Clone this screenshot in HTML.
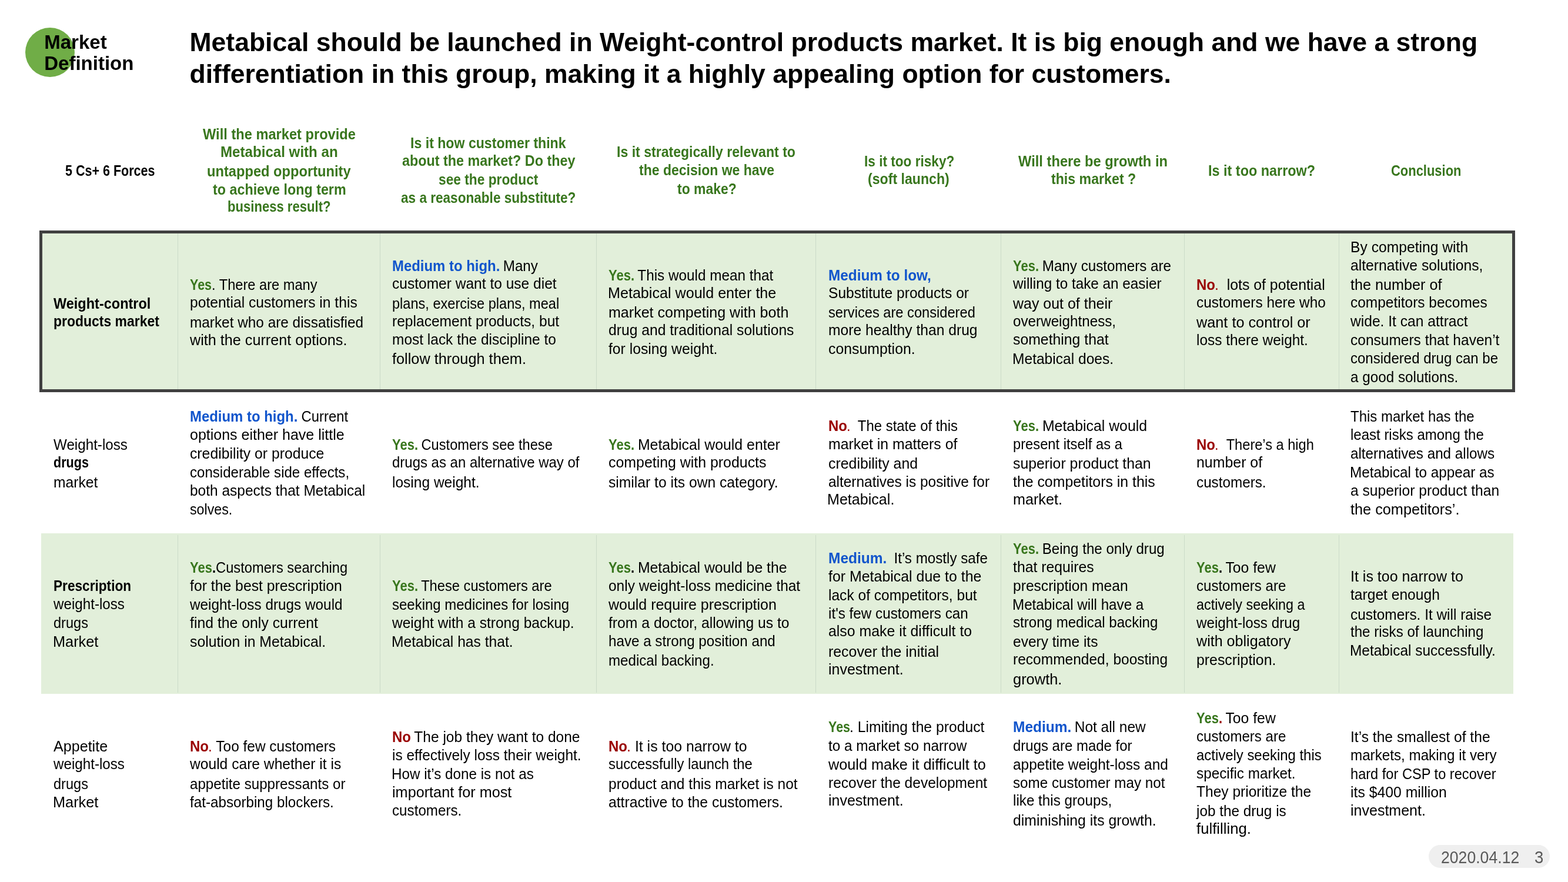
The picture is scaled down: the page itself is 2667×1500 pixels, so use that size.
<!DOCTYPE html>
<html lang="en">
<head>
<meta charset="utf-8">
<title>Market Definition</title>
<style>
html,body{margin:0;padding:0;background:#fff}
body{width:2667px;height:1500px;position:relative;overflow:hidden;font-family:"Liberation Sans",sans-serif;color:#000}
.t{position:absolute;white-space:pre;font-size:25px;line-height:30px;height:30px;transform-origin:0 0;font-weight:400}
.bd{font-weight:700}
.circle{position:absolute;left:43.25px;top:47px;width:84px;height:84px;border-radius:50%;background:#70ad47}
.lab{position:absolute;white-space:pre;font-weight:700;font-size:33px;line-height:36px;height:36px;transform-origin:0 0}
.ttl{position:absolute;white-space:pre;font-weight:700;font-size:44.53px;line-height:54px;height:54px;transform-origin:0 0}
.band{position:absolute;background:#e2efda}
.box{position:absolute;left:67px;top:392px;width:2510px;height:275px;box-sizing:border-box;border:5px solid #404040;background:#e2efda}
.sep{position:absolute;width:1px;background:#cbdbc8}
.pill{position:absolute;left:2430px;top:1436.5px;width:205.5px;height:39px;border-radius:19.5px;background:#efefef}
.pg{position:absolute;white-space:pre;font-size:29px;line-height:34px;height:34px;color:#595959;transform-origin:0 0}
</style>
</head>
<body>
<div class="circle"></div>
<div class="box"></div>
<div class="band" style="left:69.5px;top:907px;width:2504.5px;height:273px"></div>
<div class="sep" style="left:302.00px;top:397px;height:265px"></div>
<div class="sep" style="left:302.00px;top:910px;height:268px"></div>
<div class="sep" style="left:646.00px;top:397px;height:265px"></div>
<div class="sep" style="left:646.00px;top:910px;height:268px"></div>
<div class="sep" style="left:1014.00px;top:397px;height:265px"></div>
<div class="sep" style="left:1014.00px;top:910px;height:268px"></div>
<div class="sep" style="left:1387.00px;top:397px;height:265px"></div>
<div class="sep" style="left:1387.00px;top:910px;height:268px"></div>
<div class="sep" style="left:1701.75px;top:397px;height:265px"></div>
<div class="sep" style="left:1701.75px;top:910px;height:268px"></div>
<div class="sep" style="left:2014.00px;top:397px;height:265px"></div>
<div class="sep" style="left:2014.00px;top:910px;height:268px"></div>
<div class="sep" style="left:2277.25px;top:397px;height:265px"></div>
<div class="sep" style="left:2277.25px;top:910px;height:268px"></div>
<span class="lab" style="left:75.25px;top:54px">Market</span>
<span class="lab" style="left:75.25px;top:90px">Definition</span>
<span class="ttl" style="left:322.5px;top:45px">Metabical should be launched in Weight-control products market. It is big enough and we have a strong</span>
<span class="ttl" style="left:322.5px;top:99px">differentiation in this group, making it a highly appealing option for customers.</span>
<div class="pill"></div>
<span class="pg" style="left:2450.7px;top:1441px;transform:scaleX(0.918)">2020.04.12</span>
<span class="pg" style="left:2609.5px;top:1441px;transform:scaleX(0.95)">3</span>
<span class="t bd" style="left:110.75px;top:275px;transform:scaleX(0.8608)">5 Cs+ 6 Forces</span>
<span class="t bd" style="left:345.00px;top:213px;transform:scaleX(0.9457);color:#38761d">Will the market provide</span>
<span class="t bd" style="left:375.29px;top:243px;transform:scaleX(0.9648);color:#38761d">Metabical with an</span>
<span class="t bd" style="left:352.30px;top:276px;transform:scaleX(0.9470);color:#38761d">untapped opportunity</span>
<span class="t bd" style="left:362.00px;top:307px;transform:scaleX(0.9323);color:#38761d">to achieve long term</span>
<span class="t bd" style="left:387.12px;top:336px;transform:scaleX(0.8834);color:#38761d">business result?</span>
<span class="t bd" style="left:698.08px;top:228px;transform:scaleX(0.9247);color:#38761d">Is it how customer think</span>
<span class="t bd" style="left:684.00px;top:258px;transform:scaleX(0.9337);color:#38761d">about the market? Do they</span>
<span class="t bd" style="left:746.00px;top:290px;transform:scaleX(0.9100);color:#38761d">see the product</span>
<span class="t bd" style="left:681.50px;top:321px;transform:scaleX(0.9032);color:#38761d">as a reasonable substitute?</span>
<span class="t bd" style="left:1049.33px;top:243px;transform:scaleX(0.9229);color:#38761d">Is it strategically relevant to</span>
<span class="t bd" style="left:1086.50px;top:274px;transform:scaleX(0.9203);color:#38761d">the decision we have</span>
<span class="t bd" style="left:1151.50px;top:306px;transform:scaleX(0.9172);color:#38761d">to make?</span>
<span class="t bd" style="left:1469.60px;top:259px;transform:scaleX(0.9045);color:#38761d">Is it too risky?</span>
<span class="t bd" style="left:1475.83px;top:289px;transform:scaleX(0.9249);color:#38761d">(soft launch)</span>
<span class="t bd" style="left:1731.75px;top:259px;transform:scaleX(0.9482);color:#38761d">Will there be growth in</span>
<span class="t bd" style="left:1787.50px;top:289px;transform:scaleX(0.9266);color:#38761d">this market ?</span>
<span class="t bd" style="left:2055.31px;top:275px;transform:scaleX(0.9366);color:#38761d">Is it too narrow?</span>
<span class="t bd" style="left:2366.12px;top:275px;transform:scaleX(0.8779);color:#38761d">Conclusion</span>
<span class="t bd" style="left:90.55px;top:501px;transform:scaleX(0.9399)">Weight-control</span>
<span class="t bd" style="left:90.80px;top:531px;transform:scaleX(0.9180)">products market</span>
<span class="t bd" style="left:323.30px;top:469px;transform:scaleX(0.8590);color:#38761d">Yes</span>
<span class="t" style="left:359.53px;top:469px;transform:scaleX(0.9456)">. There are many</span>
<span class="t" style="left:323.30px;top:499px;transform:scaleX(0.9850)">potential customers in this</span>
<span class="t" style="left:323.30px;top:533px;transform:scaleX(0.9742)">market who are dissatisfied</span>
<span class="t" style="left:323.30px;top:563px;transform:scaleX(1.0075)">with the current options.</span>
<span class="t bd" style="left:666.80px;top:437px;transform:scaleX(0.9568);color:#1155cc">Medium to high.</span>
<span class="t" style="left:849.36px;top:437px;transform:scaleX(0.9680)"> Many</span>
<span class="t" style="left:666.80px;top:467px;transform:scaleX(0.9817)">customer want to use diet</span>
<span class="t" style="left:666.80px;top:501px;transform:scaleX(0.9424)">plans, exercise plans, meal</span>
<span class="t" style="left:666.80px;top:531px;transform:scaleX(0.9830)">replacement products, but</span>
<span class="t" style="left:666.80px;top:562px;transform:scaleX(0.9789)">most lack the discipline to</span>
<span class="t" style="left:666.80px;top:595px;transform:scaleX(1.0124)">follow through them.</span>
<span class="t bd" style="left:1035.05px;top:453px;transform:scaleX(0.8808);color:#38761d">Yes.</span>
<span class="t" style="left:1078.35px;top:453px;transform:scaleX(0.9715)"> This would mean that</span>
<span class="t" style="left:1033.85px;top:483px;transform:scaleX(1.0050)">Metabical would enter the</span>
<span class="t" style="left:1035.05px;top:516px;transform:scaleX(1.0021)">market competing with both</span>
<span class="t" style="left:1035.05px;top:546px;transform:scaleX(0.9868)">drug and traditional solutions</span>
<span class="t" style="left:1035.05px;top:578px;transform:scaleX(0.9881)">for losing weight.</span>
<span class="t bd" style="left:1408.55px;top:453px;transform:scaleX(0.9736);color:#1155cc">Medium to low,</span>
<span class="t" style="left:1408.55px;top:483px;transform:scaleX(0.9829)">Substitute products or</span>
<span class="t" style="left:1408.55px;top:516px;transform:scaleX(0.9462)">services are considered</span>
<span class="t" style="left:1408.55px;top:546px;transform:scaleX(0.9863)">more healthy than drug</span>
<span class="t" style="left:1408.55px;top:578px;transform:scaleX(0.9929)">consumption.</span>
<span class="t bd" style="left:1722.80px;top:437px;transform:scaleX(0.8808);color:#38761d">Yes.</span>
<span class="t" style="left:1766.10px;top:437px;transform:scaleX(0.9684)"> Many customers are</span>
<span class="t" style="left:1722.80px;top:467px;transform:scaleX(0.9717)">willing to take an easier</span>
<span class="t" style="left:1722.80px;top:501px;transform:scaleX(0.9985)">way out of their</span>
<span class="t" style="left:1722.80px;top:531px;transform:scaleX(0.9692)">overweightness,</span>
<span class="t" style="left:1722.80px;top:562px;transform:scaleX(0.9918)">something that</span>
<span class="t" style="left:1721.60px;top:595px;transform:scaleX(0.9827)">Metabical does.</span>
<span class="t bd" style="left:2034.80px;top:469px;transform:scaleX(0.9593);color:#990000">No</span>
<span class="t" style="left:2065.97px;top:469px;transform:scaleX(0.9924);color:#990000">.</span>
<span class="t" style="left:2072.87px;top:469px;transform:scaleX(0.9924)">  lots of potential</span>
<span class="t" style="left:2034.80px;top:499px;transform:scaleX(0.9766)">customers here who</span>
<span class="t" style="left:2034.80px;top:533px;transform:scaleX(1.0105)">want to control or</span>
<span class="t" style="left:2034.80px;top:563px;transform:scaleX(0.9759)">loss there weight.</span>
<span class="t" style="left:2297.30px;top:405px;transform:scaleX(0.9863)">By competing with</span>
<span class="t" style="left:2297.30px;top:436px;transform:scaleX(0.9889)">alternative solutions,</span>
<span class="t" style="left:2297.30px;top:469px;transform:scaleX(1.0074)">the number of</span>
<span class="t" style="left:2297.30px;top:499px;transform:scaleX(0.9793)">competitors becomes</span>
<span class="t" style="left:2297.30px;top:531px;transform:scaleX(0.9841)">wide. It can attract</span>
<span class="t" style="left:2297.30px;top:563px;transform:scaleX(0.9804)">consumers that haven’t</span>
<span class="t" style="left:2297.30px;top:594px;transform:scaleX(0.9609)">considered drug can be</span>
<span class="t" style="left:2297.30px;top:626px;transform:scaleX(0.9699)">a good solutions.</span>
<span class="t" style="left:90.80px;top:741px;transform:scaleX(0.9677)">Weight-loss</span>
<span class="t bd" style="left:90.80px;top:771px;transform:scaleX(0.8637)">drugs</span>
<span class="t" style="left:90.80px;top:805px;transform:scaleX(0.9868)">market</span>
<span class="t bd" style="left:323.30px;top:693px;transform:scaleX(0.9568);color:#1155cc">Medium to high.</span>
<span class="t" style="left:505.86px;top:693px;transform:scaleX(0.9532)"> Current</span>
<span class="t" style="left:323.30px;top:724px;transform:scaleX(0.9998)">options either have little</span>
<span class="t" style="left:323.30px;top:756px;transform:scaleX(0.9899)">credibility or produce</span>
<span class="t" style="left:323.30px;top:788px;transform:scaleX(0.9624)">considerable side effects,</span>
<span class="t" style="left:323.30px;top:819px;transform:scaleX(0.9799)">both aspects that Metabical</span>
<span class="t" style="left:323.30px;top:851px;transform:scaleX(0.9287)">solves.</span>
<span class="t bd" style="left:666.80px;top:741px;transform:scaleX(0.8808);color:#38761d">Yes.</span>
<span class="t" style="left:710.10px;top:741px;transform:scaleX(0.9449)"> Customers see these</span>
<span class="t" style="left:666.80px;top:771px;transform:scaleX(0.9587)">drugs as an alternative way of</span>
<span class="t" style="left:666.80px;top:805px;transform:scaleX(0.9811)">losing weight.</span>
<span class="t bd" style="left:1035.05px;top:741px;transform:scaleX(0.8808);color:#38761d">Yes.</span>
<span class="t" style="left:1078.35px;top:741px;transform:scaleX(0.9944)"> Metabical would enter</span>
<span class="t" style="left:1035.05px;top:771px;transform:scaleX(0.9958)">competing with products</span>
<span class="t" style="left:1035.05px;top:805px;transform:scaleX(0.9861)">similar to its own category.</span>
<span class="t bd" style="left:1408.55px;top:709px;transform:scaleX(0.9593);color:#990000">No</span>
<span class="t" style="left:1439.72px;top:709px;transform:scaleX(0.9562);color:#990000">.</span>
<span class="t" style="left:1446.37px;top:709px;transform:scaleX(0.9562)">  The state of this</span>
<span class="t" style="left:1408.55px;top:740px;transform:scaleX(0.9932)">market in matters of</span>
<span class="t" style="left:1408.55px;top:773px;transform:scaleX(0.9950)">credibility and</span>
<span class="t" style="left:1408.55px;top:804px;transform:scaleX(0.9763)">alternatives is positive for</span>
<span class="t" style="left:1407.35px;top:834px;transform:scaleX(1.0036)">Metabical.</span>
<span class="t bd" style="left:1722.80px;top:709px;transform:scaleX(0.8808);color:#38761d">Yes.</span>
<span class="t" style="left:1766.10px;top:709px;transform:scaleX(0.9938)"> Metabical would</span>
<span class="t" style="left:1722.80px;top:740px;transform:scaleX(0.9486)">present itself as a</span>
<span class="t" style="left:1722.80px;top:773px;transform:scaleX(0.9930)">superior product than</span>
<span class="t" style="left:1722.80px;top:804px;transform:scaleX(0.9940)">the competitors in this</span>
<span class="t" style="left:1722.80px;top:834px;transform:scaleX(1.0067)">market.</span>
<span class="t bd" style="left:2034.80px;top:741px;transform:scaleX(0.9593);color:#990000">No</span>
<span class="t" style="left:2065.97px;top:741px;transform:scaleX(0.9444);color:#990000">.</span>
<span class="t" style="left:2072.54px;top:741px;transform:scaleX(0.9444)">  There’s a high</span>
<span class="t" style="left:2034.80px;top:771px;transform:scaleX(0.9963)">number of</span>
<span class="t" style="left:2034.80px;top:805px;transform:scaleX(0.9700)">customers.</span>
<span class="t" style="left:2297.30px;top:693px;transform:scaleX(0.9592)">This market has the</span>
<span class="t" style="left:2297.30px;top:724px;transform:scaleX(0.9602)">least risks among the</span>
<span class="t" style="left:2297.30px;top:756px;transform:scaleX(0.9694)">alternatives and allows</span>
<span class="t" style="left:2296.10px;top:788px;transform:scaleX(0.9712)">Metabical to appear as</span>
<span class="t" style="left:2297.30px;top:819px;transform:scaleX(0.9844)">a superior product than</span>
<span class="t" style="left:2297.30px;top:851px;transform:scaleX(1.0109)">the competitors’.</span>
<span class="t bd" style="left:90.80px;top:981px;transform:scaleX(0.9056)">Prescription</span>
<span class="t" style="left:90.80px;top:1012px;transform:scaleX(0.9671)">weight-loss</span>
<span class="t" style="left:90.80px;top:1044px;transform:scaleX(0.9422)">drugs</span>
<span class="t" style="left:89.60px;top:1076px;transform:scaleX(1.0123)">Market</span>
<span class="t bd" style="left:323.30px;top:950px;transform:scaleX(0.8808);color:#38761d">Yes</span>
<span class="t bd" style="left:361.27px;top:950px;transform:scaleX(0.8808)">.</span>
<span class="t" style="left:366.60px;top:950px;transform:scaleX(0.9494)">Customers searching</span>
<span class="t" style="left:323.30px;top:981px;transform:scaleX(0.9908)">for the best prescription</span>
<span class="t" style="left:323.30px;top:1013px;transform:scaleX(0.9729)">weight-loss drugs would</span>
<span class="t" style="left:323.30px;top:1044px;transform:scaleX(0.9924)">find the only current</span>
<span class="t" style="left:323.30px;top:1076px;transform:scaleX(0.9900)">solution in Metabical.</span>
<span class="t bd" style="left:666.80px;top:981px;transform:scaleX(0.8808);color:#38761d">Yes.</span>
<span class="t" style="left:710.10px;top:981px;transform:scaleX(0.9473)"> These customers are</span>
<span class="t" style="left:666.80px;top:1013px;transform:scaleX(0.9587)">seeking medicines for losing</span>
<span class="t" style="left:666.80px;top:1044px;transform:scaleX(0.9815)">weight with a strong backup.</span>
<span class="t" style="left:665.60px;top:1076px;transform:scaleX(0.9844)">Metabical has that.</span>
<span class="t bd" style="left:1035.05px;top:950px;transform:scaleX(0.8808);color:#38761d">Yes</span>
<span class="t bd" style="left:1073.02px;top:950px;transform:scaleX(0.8808)">.</span>
<span class="t" style="left:1078.35px;top:950px;transform:scaleX(0.9920)"> Metabical would be the</span>
<span class="t" style="left:1035.05px;top:981px;transform:scaleX(0.9780)">only weight-loss medicine that</span>
<span class="t" style="left:1035.05px;top:1013px;transform:scaleX(0.9986)">would require prescription</span>
<span class="t" style="left:1035.05px;top:1044px;transform:scaleX(0.9882)">from a doctor, allowing us to</span>
<span class="t" style="left:1035.05px;top:1075px;transform:scaleX(0.9678)">have a strong position and</span>
<span class="t" style="left:1035.05px;top:1108px;transform:scaleX(0.9644)">medical backing.</span>
<span class="t bd" style="left:1408.55px;top:934px;transform:scaleX(0.9804);color:#1155cc">Medium.</span>
<span class="t" style="left:1507.17px;top:934px;transform:scaleX(0.9675)">  It’s mostly safe</span>
<span class="t" style="left:1408.55px;top:965px;transform:scaleX(0.9965)">for Metabical due to the</span>
<span class="t" style="left:1408.55px;top:997px;transform:scaleX(0.9828)">lack of competitors, but</span>
<span class="t" style="left:1408.55px;top:1028px;transform:scaleX(0.9702)">it&#x27;s few customers can</span>
<span class="t" style="left:1408.55px;top:1058px;transform:scaleX(0.9944)">also make it difficult to</span>
<span class="t" style="left:1408.55px;top:1093px;transform:scaleX(0.9948)">recover the initial</span>
<span class="t" style="left:1408.55px;top:1123px;transform:scaleX(0.9985)">investment.</span>
<span class="t bd" style="left:1722.80px;top:918px;transform:scaleX(0.8808);color:#38761d">Yes.</span>
<span class="t" style="left:1766.10px;top:918px;transform:scaleX(0.9658)"> Being the only drug</span>
<span class="t" style="left:1722.80px;top:949px;transform:scaleX(0.9909)">that requires</span>
<span class="t" style="left:1722.80px;top:981px;transform:scaleX(0.9843)">prescription mean</span>
<span class="t" style="left:1721.60px;top:1013px;transform:scaleX(0.9681)">Metabical will have a</span>
<span class="t" style="left:1722.80px;top:1043px;transform:scaleX(0.9634)">strong medical backing</span>
<span class="t" style="left:1722.80px;top:1076px;transform:scaleX(0.9809)">every time its</span>
<span class="t" style="left:1722.80px;top:1106px;transform:scaleX(0.9809)">recommended, boosting</span>
<span class="t" style="left:1722.80px;top:1140px;transform:scaleX(1.0177)">growth.</span>
<span class="t bd" style="left:2034.80px;top:950px;transform:scaleX(0.8808);color:#38761d">Yes</span>
<span class="t bd" style="left:2072.77px;top:950px;transform:scaleX(0.8808)">.</span>
<span class="t" style="left:2078.10px;top:950px;transform:scaleX(0.9905)"> Too few</span>
<span class="t" style="left:2034.80px;top:981px;transform:scaleX(0.9617)">customers are</span>
<span class="t" style="left:2034.80px;top:1013px;transform:scaleX(0.9356)">actively seeking a</span>
<span class="t" style="left:2034.80px;top:1044px;transform:scaleX(0.9673)">weight-loss drug</span>
<span class="t" style="left:2034.80px;top:1075px;transform:scaleX(1.0040)">with obligatory</span>
<span class="t" style="left:2034.80px;top:1107px;transform:scaleX(0.9942)">prescription.</span>
<span class="t" style="left:2297.30px;top:965px;transform:scaleX(1.0006)">It is too narrow to</span>
<span class="t" style="left:2297.30px;top:996px;transform:scaleX(0.9841)">target enough</span>
<span class="t" style="left:2297.30px;top:1030px;transform:scaleX(0.9764)">customers. It will raise</span>
<span class="t" style="left:2297.30px;top:1059px;transform:scaleX(0.9637)">the risks of launching</span>
<span class="t" style="left:2296.10px;top:1091px;transform:scaleX(0.9764)">Metabical successfully.</span>
<span class="t" style="left:90.80px;top:1254px;transform:scaleX(1.0041)">Appetite</span>
<span class="t" style="left:90.80px;top:1284px;transform:scaleX(0.9671)">weight-loss</span>
<span class="t" style="left:90.80px;top:1318px;transform:scaleX(0.9422)">drugs</span>
<span class="t" style="left:89.60px;top:1349px;transform:scaleX(1.0123)">Market</span>
<span class="t bd" style="left:323.30px;top:1254px;transform:scaleX(0.9593);color:#990000">No</span>
<span class="t" style="left:354.47px;top:1254px;transform:scaleX(0.9773);color:#990000">.</span>
<span class="t" style="left:361.27px;top:1254px;transform:scaleX(0.9773)"> Too few customers</span>
<span class="t" style="left:323.30px;top:1284px;transform:scaleX(0.9845)">would care whether it is</span>
<span class="t" style="left:323.30px;top:1318px;transform:scaleX(0.9662)">appetite suppressants or</span>
<span class="t" style="left:323.30px;top:1349px;transform:scaleX(0.9681)">fat-absorbing blockers.</span>
<span class="t bd" style="left:666.80px;top:1238px;transform:scaleX(0.9593);color:#990000">No</span>
<span class="t" style="left:697.97px;top:1238px;transform:scaleX(0.9806)"> The job they want to done</span>
<span class="t" style="left:666.80px;top:1269px;transform:scaleX(0.9780)">is effectively loss their weight.</span>
<span class="t" style="left:665.60px;top:1301px;transform:scaleX(0.9688)">How it’s done is not as</span>
<span class="t" style="left:666.80px;top:1332px;transform:scaleX(1.0096)">important for most</span>
<span class="t" style="left:666.80px;top:1363px;transform:scaleX(0.9679)">customers.</span>
<span class="t bd" style="left:1035.05px;top:1254px;transform:scaleX(0.9593);color:#990000">No</span>
<span class="t" style="left:1066.22px;top:1254px;transform:scaleX(0.9941);color:#990000">.</span>
<span class="t" style="left:1073.13px;top:1254px;transform:scaleX(0.9941)"> It is too narrow to</span>
<span class="t" style="left:1035.05px;top:1284px;transform:scaleX(0.9523)">successfully launch the</span>
<span class="t" style="left:1035.05px;top:1318px;transform:scaleX(0.9808)">product and this market is not</span>
<span class="t" style="left:1035.05px;top:1349px;transform:scaleX(0.9892)">attractive to the customers.</span>
<span class="t bd" style="left:1408.55px;top:1221px;transform:scaleX(0.8590);color:#38761d">Yes</span>
<span class="t" style="left:1444.78px;top:1221px;transform:scaleX(0.9886)">. Limiting the product</span>
<span class="t" style="left:1408.55px;top:1253px;transform:scaleX(0.9732)">to a market so narrow</span>
<span class="t" style="left:1408.55px;top:1285px;transform:scaleX(1.0110)">would make it difficult to</span>
<span class="t" style="left:1408.55px;top:1316px;transform:scaleX(0.9818)">recover the development</span>
<span class="t" style="left:1408.55px;top:1346px;transform:scaleX(0.9985)">investment.</span>
<span class="t bd" style="left:1722.80px;top:1221px;transform:scaleX(0.9804);color:#1155cc">Medium.</span>
<span class="t" style="left:1821.42px;top:1221px;transform:scaleX(0.9773)"> Not all new</span>
<span class="t" style="left:1722.80px;top:1253px;transform:scaleX(0.9588)">drugs are made for</span>
<span class="t" style="left:1722.80px;top:1285px;transform:scaleX(0.9786)">appetite weight-loss and</span>
<span class="t" style="left:1722.80px;top:1316px;transform:scaleX(0.9687)">some customer may not</span>
<span class="t" style="left:1722.80px;top:1346px;transform:scaleX(0.9692)">like this groups,</span>
<span class="t" style="left:1722.80px;top:1380px;transform:scaleX(0.9906)">diminishing its growth.</span>
<span class="t bd" style="left:2034.80px;top:1206px;transform:scaleX(0.8808);color:#38761d">Yes</span>
<span class="t bd" style="left:2072.77px;top:1206px;transform:scaleX(0.8808);color:#990000">.</span>
<span class="t" style="left:2078.10px;top:1206px;transform:scaleX(0.9905)"> Too few</span>
<span class="t" style="left:2034.80px;top:1237px;transform:scaleX(0.9617)">customers are</span>
<span class="t" style="left:2034.80px;top:1269px;transform:scaleX(0.9566)">actively seeking this</span>
<span class="t" style="left:2034.80px;top:1300px;transform:scaleX(0.9708)">specific market.</span>
<span class="t" style="left:2034.80px;top:1331px;transform:scaleX(0.9818)">They prioritize the</span>
<span class="t" style="left:2034.80px;top:1364px;transform:scaleX(0.9723)">job the drug is</span>
<span class="t" style="left:2034.80px;top:1394px;transform:scaleX(1.0291)">fulfilling.</span>
<span class="t" style="left:2297.30px;top:1238px;transform:scaleX(0.9845)">It’s the smallest of the</span>
<span class="t" style="left:2297.30px;top:1269px;transform:scaleX(0.9677)">markets, making it very</span>
<span class="t" style="left:2297.30px;top:1301px;transform:scaleX(0.9444)">hard for CSP to recover</span>
<span class="t" style="left:2297.30px;top:1332px;transform:scaleX(0.9909)">its $400 million</span>
<span class="t" style="left:2297.30px;top:1363px;transform:scaleX(1.0005)">investment.</span>
</body>
</html>
